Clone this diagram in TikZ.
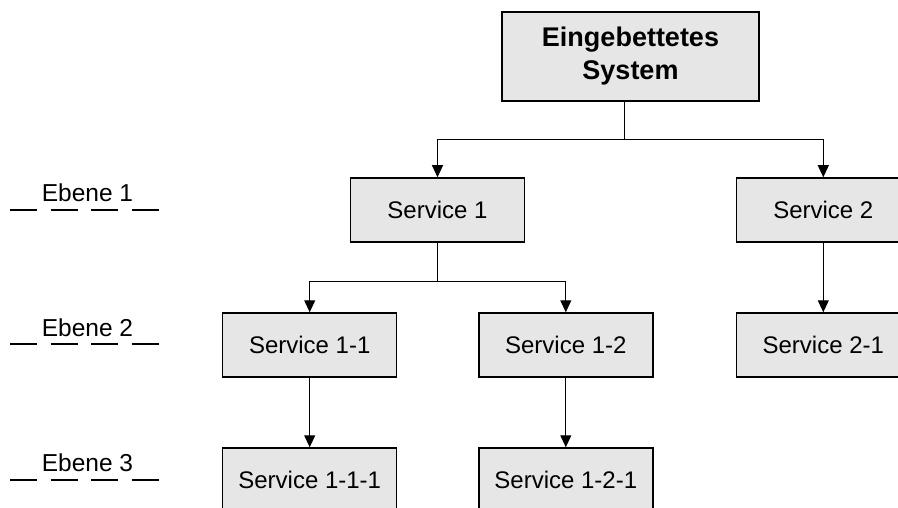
\documentclass[tikz,border=0pt]{standalone}
\usepackage{fontspec}
\setmainfont{Liberation Sans}
\usetikzlibrary{arrows.meta}
\definecolor{boxgray}{RGB}{230,230,230}
\begin{document}
\begin{tikzpicture}[x=1pt,y=-1pt,
  svc/.style={draw=black, line width=1.5pt, fill=boxgray, minimum width=174pt,
    minimum height=64pt, inner sep=0pt, font=\fontsize{24}{29}\selectfont},
  root/.style={svc, minimum width=257pt, minimum height=89pt, align=center,
    font=\fontsize{27}{33}\selectfont\bfseries},
  wire/.style={line width=1pt},
  link/.style={wire, -{Triangle[length=12pt,width=11pt]}},
  levelline/.style={line width=1.1pt, dash pattern=on 27pt off 13.5pt},
  levellabel/.style={anchor=base, inner sep=0pt, font=\fontsize{24.5}{29}\selectfont}]
  \useasboundingbox (0,0) rectangle (898,508);
  \clip (0,0) rectangle (898,508);

  % level markers on the left
  \foreach \name/\yb/\yl in {1/202/210, 2/336/344, 3/471.7/480} {
    \node[levellabel] (lvl\name) at (87.5,\yb) {Ebene \name};
    \coordinate (la\name) at (10,\yl);
    \coordinate (lb\name) at (160,\yl);
    \draw[levelline] (la\name) -- (lb\name);
  }

  % service tree
  \node[root] (top)  at (630.5,56.5) {Eingebettetes\\System};
  \node[svc]  (s1)   at (437.5,210)  {Service 1};
  \node[svc]  (s2)   at (823.3,210)  {Service 2};
  \node[svc]  (s11)  at (309.7,345)  {Service 1-1};
  \node[svc]  (s12)  at (565.8,345)  {Service 1-2};
  \node[svc]  (s21)  at (823.3,345)  {Service 2-1};
  \node[svc]  (s111) at (309.7,480)  {Service 1-1-1};
  \node[svc]  (s121) at (565.8,480)  {Service 1-2-1};

  % connectors
  \coordinate (j0) at (624,140);
  \draw[wire] (top.south -| j0) -- (j0);
  \draw[link] (j0) -| (s1.north);
  \draw[link] (j0) -| (s2.north);

  \coordinate (j1) at (437.5,281);
  \draw[wire] (s1.south) -- (j1);
  \draw[link] (j1) -| (s11.north);
  \draw[link] (j1) -| (s12.north);

  \draw[link] (s2) -- (s21);
  \draw[link] (s11) -- (s111);
  \draw[link] (s12) -- (s121);
\end{tikzpicture}
\end{document}
